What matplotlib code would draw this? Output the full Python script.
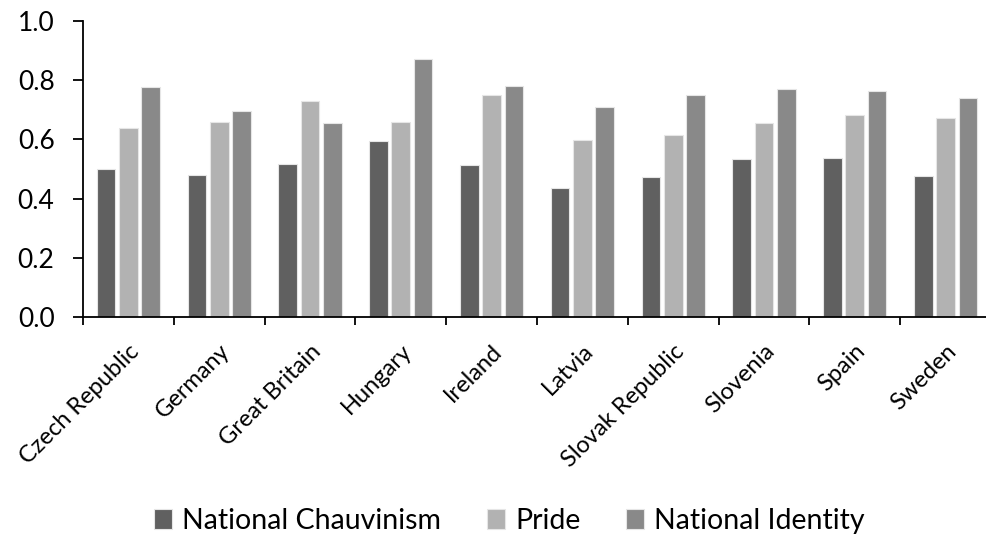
import numpy as np
import matplotlib
matplotlib.use("Agg")
import matplotlib.pyplot as plt
from matplotlib.ticker import FixedLocator, NullFormatter

plt.rcParams['font.family'] = ['Lato', 'DejaVu Sans']

countries = ["Czech Republic", "Germany", "Great Britain", "Hungary", "Ireland",
             "Latvia", "Slovak Republic", "Slovenia", "Spain", "Sweden"]
national_chauvinism = [0.500, 0.480, 0.516, 0.593, 0.512, 0.437, 0.473, 0.533, 0.538, 0.476]
pride = [0.640, 0.659, 0.730, 0.659, 0.751, 0.597, 0.616, 0.655, 0.681, 0.672]
national_identity = [0.776, 0.695, 0.654, 0.871, 0.779, 0.709, 0.751, 0.770, 0.765, 0.739]

series = [
    ("National Chauvinism", national_chauvinism, "#606060"),
    ("Pride", pride, "#b2b2b2"),
    ("National Identity", national_identity, "#898989"),
]

fig = plt.figure(figsize=(9.87, 5.36), dpi=100)
# axes spans from x=83px to 991px (right side runs to the figure edge)
ax = fig.add_axes([83 / 987, 1 - 317 / 536, 908 / 987, 296 / 536])

x = np.arange(len(countries))
step = 0.245
width = 0.205
for i, (name, vals, color) in enumerate(series):
    ax.bar(x + (i - 1) * step, vals, width, color=color, label=name,
           edgecolor="#e6e6e6", linewidth=0.8)

ax.set_xlim(-0.5, len(countries) - 0.5)
ax.set_ylim(0, 1.0)
ax.set_yticks([0.0, 0.2, 0.4, 0.6, 0.8, 1.0])
ax.set_yticklabels(["0.0", "0.2", "0.4", "0.6", "0.8", "1.0"], fontsize=19)

# category boundaries carry the tick marks, labels sit at category centers
ax.xaxis.set_major_locator(FixedLocator(np.arange(len(countries) + 1) - 0.5))
ax.xaxis.set_major_formatter(NullFormatter())
ax.xaxis.set_minor_locator(FixedLocator(x))
ax.set_xticklabels(countries, minor=True, rotation=45, ha="right",
                   rotation_mode="anchor", fontsize=17)
ax.tick_params(axis="x", which="minor", length=0, pad=17)
ax.tick_params(axis="x", which="major", length=6, width=1.3, direction="out")
ax.tick_params(axis="y", length=7.5, width=1.3, direction="out", pad=13)

for side in ["top", "right"]:
    ax.spines[side].set_visible(False)
ax.spines["left"].set_linewidth(1.3)
ax.spines["bottom"].set_linewidth(1.3)

handles, labels = ax.get_legend_handles_labels()
fig.legend(handles, labels, loc="center", bbox_to_anchor=(0.516, 1 - 521 / 536),
           ncol=3, frameon=False, fontsize=20.5, handlelength=0.65,
           handleheight=0.65, handletextpad=0.35, columnspacing=1.6)

fig.savefig("out.png", dpi=100)
